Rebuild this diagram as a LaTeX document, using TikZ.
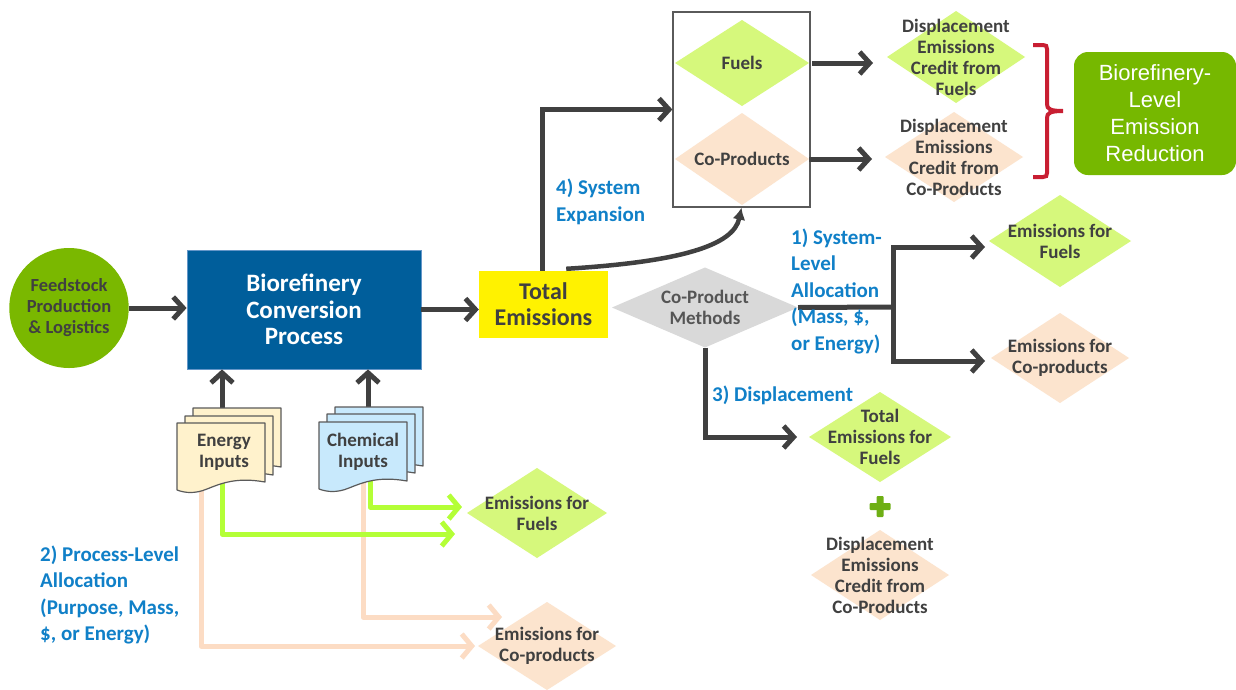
\documentclass[tikz,border=0pt]{standalone}
\usepackage{fontspec}
\setmainfont{Carlito}
\newfontfamily\arialfont{Liberation Sans}
\usetikzlibrary{arrows.meta,calc,shapes.geometric}

\definecolor{dgray}{RGB}{64,64,64}
\definecolor{mgray}{RGB}{85,85,85}
\definecolor{fgreen}{RGB}{122,184,0}
\definecolor{cblue}{RGB}{0,94,155}
\definecolor{cborder}{RGB}{100,150,200}
\definecolor{lgreen}{RGB}{214,248,124}
\definecolor{peach}{RGB}{252,228,206}
\definecolor{lgray}{RGB}{217,217,217}
\definecolor{rgreen}{RGB}{118,184,0}
\definecolor{bred}{RGB}{200,30,50}
\definecolor{lblue}{RGB}{16,128,200}
\definecolor{limeline}{RGB}{180,255,55}
\definecolor{peachline}{RGB}{252,220,196}
\definecolor{endoc}{RGB}{255,242,204}
\definecolor{chdoc}{RGB}{200,233,252}
\definecolor{plusgreen}{RGB}{110,175,20}
\definecolor{boxgray}{RGB}{90,90,90}

% filled diamond with centred label; corners named <name>-w/-n/-e/-s
\newcommand\dia[6]{%
  \fill[#5] (#2) ++(-#3,0) coordinate (#1-w) -- ++(#3,-#4) coordinate (#1-n)
     -- ++(#3,#4) coordinate (#1-e) -- ++(-#3,#4) coordinate (#1-s) -- cycle;
  \node[dtext] (#1) at (#2) {#6};}

% document sheet with wavy lower edge, top-left corner at (#1,#2)
\newcommand\docsheet[3]{%
  \filldraw[fill=#3, draw=boxgray, line width=1.2pt, line join=round]
    (#1,#2) -- ++(88,0) -- ++(0,59)
    .. controls ++(-28,-5) and ++(15,-6) .. ++(-58,7)
    .. controls ++(-12,5) and ++(8,3) .. ++(-30,1) -- cycle;}

\tikzset{
  dtext/.style={text=dgray, font=\bfseries\fontsize{19}{21}\selectfont,
    align=center, inner sep=0pt},
  btext/.style={text=lblue, font=\bfseries\fontsize{21}{26.5}\selectfont,
    align=left, inner sep=0pt, anchor=west},
  dline/.style={draw=dgray, line width=5pt},
  darrow/.style={dline, -{Straight Barb[length=10pt,width=22pt]}},
  garrow/.style={draw=limeline, line width=5pt, line join=round,
    -{Straight Barb[length=10pt,width=24pt]}},
  parrow/.style={draw=peachline, line width=5pt, line join=round,
    -{Straight Barb[length=10pt,width=24pt]}},
}

\begin{document}
\begin{tikzpicture}[x=1pt,y=-1pt]
\useasboundingbox (0,0) rectangle (1236,689);
\fill[white] (0,0) rectangle (1236,689);

% ---- main process chain
\node[ellipse, fill=fgreen, minimum width=118pt, minimum height=120pt, dtext,
  font=\bfseries\fontsize{18.5}{21}\selectfont] (feed) at (69,308)
  {Feedstock\\Production\\\& Logistics};
\node[fill=cblue, draw=cborder, line width=0.8pt, minimum width=234pt,
  minimum height=119pt, text=white, align=center, inner sep=0pt,
  font=\bfseries\fontsize{25}{26.5}\selectfont] (conv) at (304,309.5)
  {Biorefinery\\Conversion\\Process};
\node[fill=yellow, minimum width=129pt, minimum height=67pt, text=dgray,
  align=center, inner sep=0pt, font=\bfseries\fontsize{24}{26}\selectfont]
  (tot) at (543.5,304.5) {Total\\Emissions};

\draw[darrow] (feed.east) -- (feed.east -| conv.west);
\draw[darrow] (conv.east) -- (conv.east -| tot.west);

% ---- 4) system expansion
\node[draw=boxgray, line width=1.3pt, fill=white, minimum width=137pt,
  minimum height=195pt] (sysbox) at (741.5,109.5) {};
\draw[darrow] (tot.north -| 542,0) |- (sysbox.west);
\draw[dgray, line width=4.5pt, -{Latex[length=12pt,width=13pt]}]
  ($(tot.north east)+(-42,-2)$) .. controls +(114,-7) and +(-8,38) .. (sysbox.south);

\dia{fuel}{742,63}{67}{43}{lgreen}{Fuels}
\dia{cop}{742,159}{67}{46}{peach}{Co-Products}
\dia{dfuel}{956,57}{69}{46}{lgreen}{Displacement\\Emissions\\Credit from\\Fuels}
\dia{dcop}{954,157}{69}{45}{peach}{Displacement\\Emissions\\Credit from\\Co-Products}

\draw[darrow, shorten <=3pt, shorten >=14pt] (fuel-e) -- (fuel-e -| dfuel-w);
\draw[darrow, shorten >=13pt] (cop-e) -- (cop-e -| dcop-w);

% brace gathering both credits
\draw[bred, line width=4pt]
  (1033,45) -- (1043,45) .. controls (1046,45) and (1047,46) .. (1047,49)
  -- (1047,104) .. controls (1047,109) and (1050,111) .. (1063,111)
  .. controls (1050,111) and (1047,113) .. (1047,118)
  -- (1047,173) .. controls (1047,176) and (1046,177) .. (1043,177) -- (1033,177);

\node[fill=rgreen, rounded corners=14pt, minimum width=162pt, minimum height=123pt,
  text=white, align=center, inner sep=0pt,
  font=\arialfont\fontsize{22}{27}\selectfont] (reduction) at (1155,113.5)
  {Biorefinery-\\Level\\Emission\\Reduction};

\node[btext] (lab4) at (556,202) {4) System\\Expansion};

% ---- co-product methods
\dia{cpm}{705,307.5}{93}{40}{lgray}{}
\node[dtext, text=mgray] (cpmtext) at (cpm) {Co-Product\\Methods};

% 1) system-level allocation
\dia{efR}{1060,241}{71}{46}{lgreen}{Emissions for\\Fuels}
\dia{ecR}{1060,358}{69}{45}{peach}{Emissions for\\Co-products}
\coordinate (junc) at (893,307);
\draw[dline] (cpm-e) -- (junc);
\draw[darrow, shorten >=4pt] (junc) |- ($(efR-w)+(0,6)$);
\draw[darrow, shorten >=6pt] (junc) |- ($(ecR-w)+(0,3)$);
\node[btext] (lab1) at (791,291)
  {1) System-\\Level\\Allocation\\(Mass, \$,\\or Energy)};

% 3) displacement
\dia{tef}{880,437}{71}{45}{lgreen}{Total\\Emissions for\\Fuels}
\dia{dco}{880,575}{69}{45}{peach}{Displacement\\Emissions\\Credit from\\Co-Products}
\draw[darrow, shorten >=12pt] (cpm-s) |- (tef-w);
\node[btext] (lab3) at (712,395) {3) Displacement};
\fill[plusgreen, rounded corners=1pt] (876.5,496) rectangle (883.5,517);
\fill[plusgreen, rounded corners=1pt] (869.5,503) rectangle (890.5,510);

% ---- 2) process-level allocation
\dia{ef}{537,513}{70}{45}{lgreen}{Emissions for\\Fuels}
\dia{ec}{547,646}{69}{44}{peach}{Emissions for\\Co-products}

\coordinate (en-top) at (222,408);
\coordinate (ch-top) at (368,407);
\coordinate (en-g) at (222,480);
\coordinate (en-p) at (201,480);
\coordinate (ch-g) at (370,480);
\coordinate (ch-p) at (363,480);

\draw[darrow] (en-top) -- (en-top |- conv.south);
\draw[darrow] (ch-top) -- (ch-top |- conv.south);

\draw[parrow] (ch-p) |- ($(ec-w)+(24,-29)$);
\draw[parrow] (en-p) |- ($(ec-w)+(-3,0)$);
\draw[garrow] (en-g) |- ($(ef-w)+(-12,21)$);
\draw[garrow] (ch-g) |- ($(ef-w)+(-5,-6)$);

% stacked input documents
\docsheet{193}{408}{endoc}
\docsheet{185}{416}{endoc}
\docsheet{177}{423}{endoc}
\docsheet{335}{407}{chdoc}
\docsheet{327}{414}{chdoc}
\docsheet{319}{422}{chdoc}
\node[dtext] (energy) at (224,452) {Energy\\Inputs};
\node[dtext] (chem) at (363,452) {Chemical\\Inputs};

\node[btext] (lab2) at (40,595)
  {2) Process-Level\\Allocation\\(Purpose, Mass,\\\$, or Energy)};
\end{tikzpicture}
\end{document}
